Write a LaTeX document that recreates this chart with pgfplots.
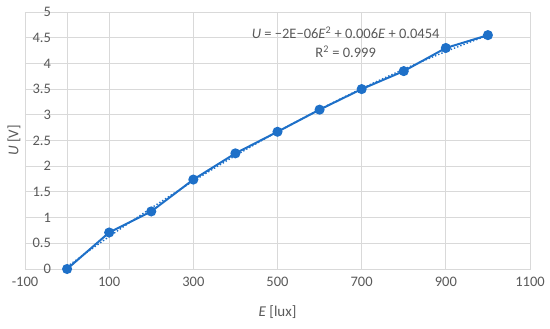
\documentclass[border=0pt]{standalone}
\usepackage{fontspec}
\setmainfont{Carlito}
\usepackage{pgfplots}
\pgfplotsset{compat=1.18}
\definecolor{ser}{RGB}{30,112,200}
\definecolor{txt}{RGB}{89,89,89}
\definecolor{grd}{RGB}{217,217,217}
\begin{document}
\fontsize{14.5pt}{17pt}\selectfont
\begin{tikzpicture}
\begin{axis}[
  scale only axis,
  width=505pt, height=257pt,
  xmin=-100, xmax=1100, ymin=0, ymax=5,
  xtick={-100,100,...,1100},
  ytick={0,0.5,...,5},
  grid=major,
  major grid style={grd, line width=0.8pt},
  axis line style={grd, line width=0.8pt},
  major tick length=0pt,
  tick label style={txt, font=\fontsize{14.5pt}{17pt}\selectfont},
  /pgf/number format/assume math mode=true,
  /pgf/number format/1000 sep={},
  yticklabel style={/pgf/number format/fixed, xshift=31pt},
  xticklabel style={/pgf/number format/fixed, yshift=-3pt},
  every axis y label/.style={at={(axis description cs:0,0.5)}, xshift=-11pt, rotate=90, anchor=center, txt, font=\fontsize{15pt}{17pt}\selectfont},
  every axis x label/.style={at={(axis description cs:0.5,0)}, yshift=-43pt, anchor=center, txt, font=\fontsize{15pt}{17pt}\selectfont},
  xlabel={\textit{E} [lux]},
  ylabel={\textit{U} [V]},
  clip=false,
]
\addplot[grd, line width=0.8pt, forget plot] coordinates {(0,0) (0,5)};
\addplot[ser, line width=1.4pt, dotted, smooth] coordinates {
(0,0.0454) (50,0.3417) (100,0.6304) (150,0.9117) (200,1.1854) (250,1.4517)
(300,1.7104) (350,1.9617) (400,2.2054) (450,2.4417) (500,2.6704) (550,2.8917)
(600,3.1054) (650,3.3117) (700,3.5104) (750,3.7017) (800,3.8854) (850,4.0617)
(900,4.2304) (950,4.3917) (1000,4.5454)};
\addplot[ser, line width=2pt, mark=*, mark size=4pt, mark options={solid, fill=ser}] coordinates {
(0,0) (100,0.71) (200,1.12) (300,1.74) (400,2.25) (500,2.67)
(600,3.10) (700,3.50) (800,3.85) (900,4.30) (1000,4.55)};
\node[txt, anchor=center, font=\fontsize{14.5pt}{17pt}\selectfont] at (axis cs:662,4.59) {\textit{U} = −2E−06\textit{E}\textsuperscript{2} + 0.006\textit{E} + 0.0454};
\node[txt, anchor=center, font=\fontsize{14.5pt}{17pt}\selectfont] at (axis cs:662,4.22) {R\textsuperscript{2} = 0.999};
\end{axis}
\pgfresetboundingbox
\path[use as bounding box] (-25pt,-60pt) rectangle (525pt,269pt);
\end{tikzpicture}
\end{document}
